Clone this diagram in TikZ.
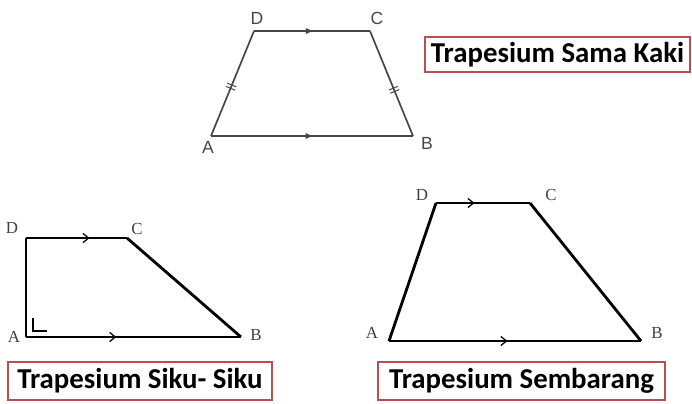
\documentclass[tikz,border=0pt]{standalone}
\usepackage{fontspec}
\setmainfont{Liberation Serif}
\newfontfamily\labelsans{Liberation Sans}
\newfontfamily\boxfont{Carlito}
\usetikzlibrary{decorations.markings,arrows.meta}

\definecolor{kotak}{RGB}{185,80,80}
\definecolor{garis}{RGB}{70,70,70}

\tikzset{
  paralel/.style={decoration={markings,
      mark=at position #1 with {\arrow{Latex[length=6pt,width=4.5pt]}}},
    postaction={decorate}},
  paralelbuka/.style={decoration={markings,
      mark=at position #1 with {\arrow{Straight Barb[length=4pt,width=6.5pt,line width=0.9pt]}}},
    postaction={decorate}},
  samapanjang/.style={decoration={markings,
      mark=at position #1 with {\draw[line width=0.7pt] (-1.2pt,-3.5pt) -- (-1.2pt,3.5pt) (1.3pt,-3.5pt) -- (1.3pt,3.5pt);}},
    postaction={decorate}},
  sisi/.style={garis,line width=1.2pt,line join=round},
  sisitebal/.style={black,line width=2pt,line join=round},
  titiksans/.style={font=\labelsans\fontsize{12.5}{14}\selectfont,text=garis},
  titikserif/.style={font=\fontsize{12}{14}\selectfont,text=black!75},
  judul/.style={draw=kotak,line width=1.4pt,fill=white,inner sep=0pt,
    minimum height=#1,font=\boxfont\bfseries\fontsize{20.5}{22}\selectfont}
}

\begin{document}
\begin{tikzpicture}[x=0.025cm,y=-0.025cm]
  \useasboundingbox (0,0) rectangle (692,403);

  % trapesium sama kaki
  \coordinate (A1) at (211,136);
  \coordinate (B1) at (413,136);
  \coordinate (C1) at (370,31);
  \coordinate (D1) at (254,31);
  \draw[sisi,paralel=0.51] (A1) -- (B1);
  \draw[sisi,paralel=0.52] (D1) -- (C1);
  \draw[sisi,samapanjang=0.47] (A1) -- (D1);
  \draw[sisi,samapanjang=0.44] (B1) -- (C1);
  \node[titiksans] (lA1) at (208,147) {A};
  \node[titiksans] (lB1) at (427,143) {B};
  \node[titiksans] (lC1) at (377,18) {C};
  \node[titiksans] (lD1) at (257,18) {D};
  \node[judul=35*0.025cm,minimum width=265*0.025cm] (jSama) at (557.5,54.5) {Trapesium Sama Kaki};

  % trapesium siku-siku
  \coordinate (A2) at (26,337);
  \coordinate (B2) at (241,337);
  \coordinate (C2) at (127,238);
  \coordinate (D2) at (26,238);
  \draw[sisitebal] (A2) -- (D2);
  \draw[sisitebal,paralelbuka=0.63] (D2) -- (C2);
  \draw[sisitebal] (C2) -- (B2);
  \draw[sisitebal,paralelbuka=0.42] (A2) -- (B2);
  \draw[black,line width=0.9pt] ([shift={(7,-19)}]A2) |- ([shift={(21,-6)}]A2);
  \node[titikserif] (lA2) at (14,337) {A};
  \node[titikserif] (lB2) at (256,335) {B};
  \node[titikserif] (lC2) at (137,229) {C};
  \node[titikserif] (lD2) at (12,228) {D};
  \node[judul=38*0.025cm,minimum width=264*0.025cm] (jSiku) at (140,381) {Trapesium Siku- Siku};

  % trapesium sembarang
  \coordinate (A3) at (389,341);
  \coordinate (B3) at (641,341);
  \coordinate (C3) at (530,203);
  \coordinate (D3) at (436,203);
  \draw[sisitebal] (A3) -- (D3);
  \draw[sisitebal,paralelbuka=0.41] (D3) -- (C3);
  \draw[sisitebal] (C3) -- (B3);
  \draw[sisitebal,paralelbuka=0.47] (A3) -- (B3);
  \node[titikserif] (lA3) at (372,333) {A};
  \node[titikserif] (lB3) at (657,333) {B};
  \node[titikserif] (lC3) at (551,195) {C};
  \node[titikserif] (lD3) at (422,195) {D};
  \node[judul=38*0.025cm,minimum width=287*0.025cm] (jSemb) at (521.5,381) {Trapesium Sembarang};
\end{tikzpicture}
\end{document}
